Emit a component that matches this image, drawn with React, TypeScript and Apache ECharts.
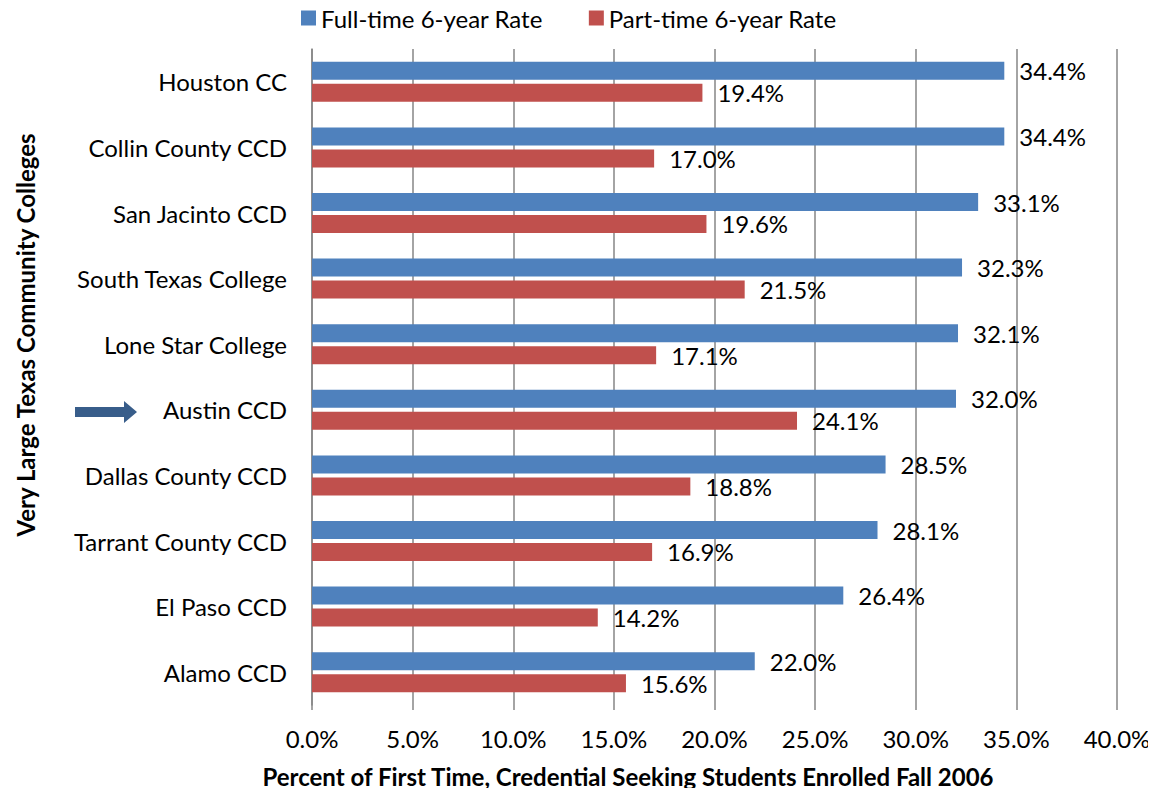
import React, { useEffect, useRef } from "react";
import * as echarts from "echarts";

const categories = [
  "Houston CC",
  "Collin County CCD",
  "San Jacinto CCD",
  "South Texas College",
  "Lone Star College",
  "Austin CCD",
  "Dallas County CCD",
  "Tarrant County CCD",
  "El Paso CCD",
  "Alamo CCD",
];
const fullTime = [34.4, 34.4, 33.1, 32.3, 32.1, 32.0, 28.5, 28.1, 26.4, 22.0];
const partTime = [19.4, 17.0, 19.6, 21.5, 17.1, 24.1, 18.8, 16.9, 14.2, 15.6];
const seriesNames = ["Full-time 6-year Rate", "Part-time 6-year Rate"];
const yTitle = "Very Large Texas Community Colleges";
const xTitle = "Percent of First Time, Credential Seeking Students Enrolled Fall 2006";

const FONT = "Lato, 'Open Sans', sans-serif";
const FS = 24;

export default function App() {
  const ref = useRef<HTMLDivElement>(null);
  useEffect(() => {
    const chart = echarts.init(ref.current!, null, { renderer: "svg" });
    const label = {
      show: true,
      position: "right",
      distance: 15,
      color: "#000",
      fontSize: FS,
      fontFamily: FONT,
      formatter: (p: any) => p.value.toFixed(1) + "%",
    };
    chart.setOption({
      animation: false,
      textStyle: { fontFamily: FONT },
      legend: {
        top: 1,
        left: 296,
        itemWidth: 15,
        itemHeight: 15,
        itemGap: 46,
        icon: "rect",
        textStyle: { fontSize: FS, color: "#000", fontFamily: FONT },
        data: seriesNames,
      },
      grid: { left: 312, right: 39, top: 49, bottom: 91, containLabel: false },
      xAxis: {
        type: "value",
        min: 0,
        max: 40,
        interval: 5,
        axisLine: { show: false },
        axisTick: { show: true, length: 5, lineStyle: { color: "#868686", width: 1.5 } },
        splitLine: { show: true, lineStyle: { color: "#868686", width: 1.5 } },
        axisLabel: {
          color: "#000",
          fontSize: FS,
          margin: 21,
          fontFamily: FONT,
          formatter: (v: number) => v.toFixed(1) + "%",
        },
      },
      yAxis: {
        type: "category",
        data: categories,
        inverse: true,
        axisLine: { show: true, lineStyle: { color: "#868686", width: 1.5 } },
        axisTick: { show: false },
        axisLabel: { color: "#000", fontSize: FS, margin: 25, fontFamily: FONT },
      },
      series: [
        {
          name: seriesNames[0],
          type: "bar",
          data: fullTime,
          barWidth: 18,
          barGap: "22%",
          itemStyle: { color: "#4F81BD" },
          label,
        },
        {
          name: seriesNames[1],
          type: "bar",
          data: partTime,
          barWidth: 18,
          barGap: "22%",
          itemStyle: { color: "#C0504D" },
          label,
        },
      ],
      graphic: [
        {
          type: "text",
          x: 25,
          y: 335,
          rotation: Math.PI / 2,
          style: {
            text: yTitle,
            fontSize: FS,
            fontWeight: "bold",
            fontFamily: FONT,
            fill: "#000",
            align: "center",
            verticalAlign: "middle",
          },
        },
        {
          type: "text",
          x: 628,
          y: 776,
          style: {
            text: xTitle,
            fontSize: FS,
            fontWeight: "bold",
            fontFamily: FONT,
            fill: "#000",
            align: "center",
            verticalAlign: "middle",
          },
        },
        {
          type: "polygon",
          shape: {
            points: [
              [75, 407],
              [124, 407],
              [124, 401],
              [137, 412],
              [124, 423],
              [124, 417],
              [75, 417],
            ],
          },
          style: { fill: "#385D8A" },
        },
      ],
    });
    return () => chart.dispose();
  }, []);
  return <div ref={ref} style={{ width: 1156, height: 796, margin: -8 }} />;
}
